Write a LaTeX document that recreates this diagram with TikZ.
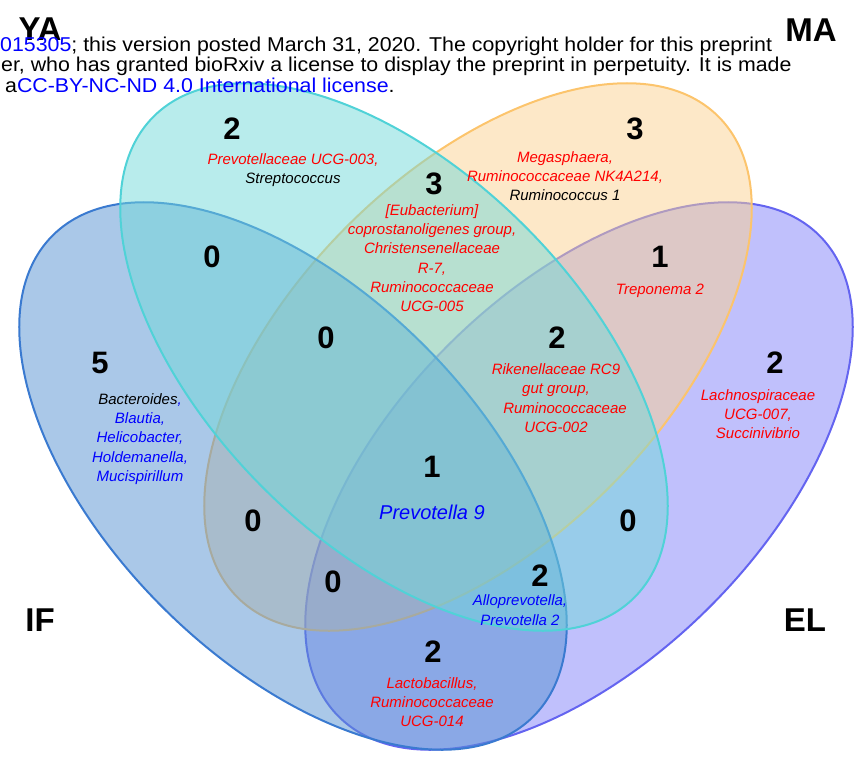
\documentclass[tikz,border=0pt]{standalone}
\usepackage{fontspec}
\setmainfont{Liberation Sans}
\usepackage{xcolor}
\usepackage{tikz}
\usetikzlibrary{positioning}

\definecolor{ifcol}{RGB}{85,145,209}
\definecolor{ifline}{RGB}{58,122,208}
\definecolor{yacol}{RGB}{113,217,217}
\definecolor{yaline}{RGB}{80,210,215}
\definecolor{macol}{RGB}{251,209,145}
\definecolor{maline}{RGB}{252,196,108}
\definecolor{elcol}{RGB}{129,129,249}
\definecolor{elline}{RGB}{100,100,240}
\definecolor{taxred}{RGB}{255,0,0}
\definecolor{taxblue}{RGB}{0,0,255}

\newcommand{\widebanner}[1]{\scalebox{1.067}[1]{#1}}

\begin{document}
\begin{tikzpicture}[
    x=1pt, y=-1pt,
    set/.style={line width=2pt, fill opacity=0.5},
    count/.style={font=\fontsize{31}{31}\selectfont\bfseries, inner sep=0pt},
    setname/.style={font=\fontsize{33}{33}\selectfont\bfseries, inner sep=0pt},
    taxa/.style={align=center, font=\fontsize{15}{19.3}\selectfont\itshape, inner sep=0pt, text=taxred},
    banner/.style={anchor=base west, font=\fontsize{20}{21}\selectfont, inner sep=0pt}
]
    \useasboundingbox (0,0) rectangle (865,758);

    % sets, back to front
    \draw[set, draw=elline, fill=elcol, rotate around={45:(579,476)}] (579,476) ellipse [x radius=340, y radius=185];
    \draw[set, draw=maline, fill=macol, rotate around={45:(478,357)}] (478,357) ellipse [x radius=340, y radius=185];
    \draw[set, draw=ifline, fill=ifcol, rotate around={-45:(293,476)}] (293,476) ellipse [x radius=340, y radius=185];
    \draw[set, draw=yaline, fill=yacol, rotate around={-45:(394,357)}] (394,357) ellipse [x radius=340, y radius=185];

    % set names
    \node[setname] (nameYA) at (40,29) {YA};
    \node[setname] (nameMA) at (811,30) {MA};
    \node[setname] (nameIF) at (40,620) {IF};
    \node[setname] (nameEL) at (805,620) {EL};

    % preprint banner
    \node[banner] (line1) at (0,51) {\widebanner{\textcolor{taxblue}{015305}; this version posted March 31, 2020. The copyright holder for this preprint}};
    \node[banner] (line2) at (1,71) {\widebanner{er, who has granted bioRxiv a license to display the preprint in perpetuity. It is made}};
    \node[banner] (line3) at (5,92) {\widebanner{a\textcolor{taxblue}{CC-BY-NC-ND 4.0 International license}.}};

    % counts and taxa
    \node[count] (nYA) at (232,129) {2};
    \node[taxa] (tYA) at (293,170) {Prevotellaceae UCG-003,\\\textcolor{black}{Streptococcus}};

    \node[count] (nMA) at (635,129) {3};
    \node[taxa] (tMA) at (565,176) {Megasphaera,\\Ruminococcaceae NK4A214,\\\textcolor{black}{Ruminococcus 1}};

    \node[count] (nYAMA) at (434,184) {3};
    \node[taxa] (tYAMA) at (432,258) {[Eubacterium]\\coprostanoligenes group,\\Christensenellaceae\\R-7,\\Ruminococcaceae\\UCG-005};

    \node[count] (nIFYA) at (212,257) {0};
    \node[count] (nMAEL) at (660,257) {1};
    \node[taxa] (tMAEL) at (660,291) {Treponema 2};

    \node[count] (nIF) at (100,363) {5};
    \node[taxa, text=taxblue] (tIF) at (140,439) {\textcolor{black}{Bacteroides},\\Blautia,\\Helicobacter,\\Holdemanella,\\Mucispirillum};

    \node[count] (nIFYAMA) at (326,338) {0};
    \node[count] (nYAMAEL) at (557,338) {2};
    \node[taxa] (tYAMAEL) at (556,398) {Rikenellaceae RC9\\gut group,\\\hspace*{18pt}Ruminococcaceae\\UCG-002};

    \node[count] (nEL) at (775,363) {2};
    \node[taxa] (tEL) at (758,414) {Lachnospiraceae\\UCG-007,\\Succinivibrio};

    \node[count] (nall) at (432,467) {1};
    \node[taxa, text=taxblue, font=\fontsize{20}{22}\selectfont\itshape] (tall) at (432,512) {Prevotella 9};

    \node[count] (nIFMA) at (253,521) {0};
    \node[count] (nYAEL) at (628,521) {0};
    \node[count] (nIFMAEL) at (333,582) {0};

    \node[count] (nIFYAEL) at (540,576) {2};
    \node[taxa, text=taxblue] (tIFYAEL) at (520,610) {Alloprevotella,\\Prevotella 2};

    \node[count] (nIFEL) at (433,652) {2};
    \node[taxa] (tIFEL) at (432,702) {Lactobacillus,\\Ruminococcaceae\\UCG-014};
\end{tikzpicture}
\end{document}
